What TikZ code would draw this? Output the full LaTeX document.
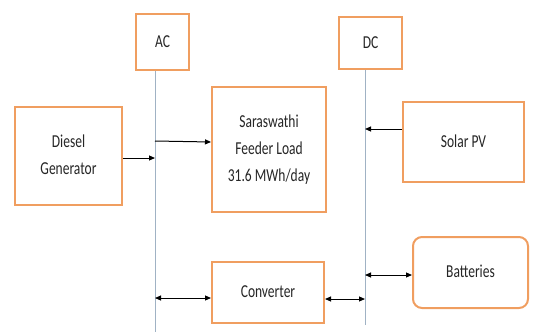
\documentclass[tikz,border=0pt]{standalone}
\usepackage{fontspec}
\setmainfont{Carlito}
\usetikzlibrary{arrows.meta}
\definecolor{boxor}{RGB}{240,158,96}
\definecolor{busl}{RGB}{160,178,196}
\newcommand\stx[1]{\scalebox{1}[1.35]{\begin{tabular}{@{}c@{}}#1\end{tabular}}}
\begin{document}
\begin{tikzpicture}[x=1pt,y=-1pt,
  blk/.style={draw=boxor,line width=2pt,fill=white,inner sep=0pt,align=center,font=\fontsize{13.5}{20}\selectfont,text=black!85},
  bus/.style={draw=busl,line width=0.9pt},
  arr/.style={-{Triangle[length=6pt,width=5pt]},line width=1pt,black},
  darr/.style={{Triangle[length=6pt,width=5pt]}-{Triangle[length=6pt,width=5pt]},line width=1pt,black}]
\useasboundingbox (0,0) rectangle (535,332);
\node[blk,minimum width=53pt,minimum height=56pt] (ac) at (162.5,42) {\stx{AC}};
\node[blk,minimum width=63pt,minimum height=52pt] (dc) at (370.5,43) {\stx{DC}};
\node[blk,minimum width=107pt,minimum height=98pt] (dg) at (68.5,156) {\stx{Diesel\\Generator}};
\node[blk,minimum width=114pt,minimum height=125pt] (load) at (269,149.5) {\stx{Saraswathi\\Feeder Load\\31.6 MWh/day}};
\node[blk,minimum width=121pt,minimum height=80pt] (pv) at (463.5,142) {\stx{Solar PV}};
\node[blk,minimum width=112pt,minimum height=61pt] (conv) at (268,292.5) {\stx{Converter}};
\node[blk,rounded corners=9pt,minimum width=115pt,minimum height=71pt] (bat) at (470.5,272.5) {\stx{Batteries}};
\coordinate (acb) at (155,332);
\coordinate (dcb) at (365,325);
\draw[bus] (ac.south -| acb) -- (acb);
\draw[bus] (dc.south -| dcb) -- (dcb);
\draw[arr] (dg.east |- 0,158) -- (acb |- 0,158);
\draw[arr] (acb |- 0,141) -- (load.west |- 0,142);
\draw[arr] (pv.west |- 0,129) -- (dcb |- 0,129);
\draw[darr] (acb |- 0,298) -- (conv.west |- 0,298);
\draw[darr] (conv.east |- 0,299) -- (dcb |- 0,299);
\draw[darr] (dcb |- 0,275) -- (bat.west |- 0,275);
\end{tikzpicture}
\end{document}
